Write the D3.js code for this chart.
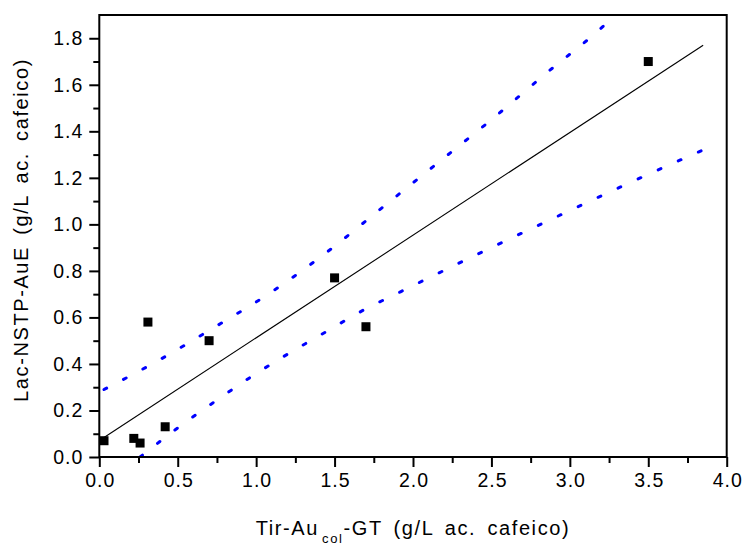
<!DOCTYPE html>
<html>
<head>
<meta charset="utf-8">
<script src="https://cdn.jsdelivr.net/npm/d3@7"></script>
<style>
  html, body { margin: 0; padding: 0; background: #fff; }
  svg { display: block; font-family: "Liberation Sans", Arial, sans-serif; }
</style>
</head>
<body>
<svg id="chart" width="744" height="545"></svg>
<script>
// Measured samples: Tir-Au_col-GT (x) vs Lac-NSTP-AuE (y), g/L caffeic acid
const sampleX = [0.03, 0.22, 0.26, 0.42, 0.31, 0.70, 1.50, 1.70, 3.50];
const sampleY = [0.07, 0.08, 0.06, 0.13, 0.58, 0.50, 0.77, 0.56, 1.70];

// Linear fit endpoints
const fitX = [0.03, 3.85];
const fitY = [0.084, 1.770];

// Upper and lower confidence limits
const upperX = [0.03, 0.39, 0.74, 1.10, 1.45, 1.80, 2.15, 2.50, 2.85, 3.21, 3.25];
const upperY = [0.29, 0.42, 0.56, 0.71, 0.88, 1.07, 1.26, 1.45, 1.65, 1.85, 1.875];
const lowerX = [0.26, 0.51, 0.74, 0.98, 1.22, 1.45, 1.68, 1.92, 2.39, 2.86, 3.32, 3.85];
const lowerY = [0.00, 0.13, 0.24, 0.35, 0.45, 0.54, 0.63, 0.71, 0.865, 1.015, 1.16, 1.32];

// Axis ticks
const xMajor = [0, 0.5, 1, 1.5, 2, 2.5, 3, 3.5, 4];
const xMinor = [0.25, 0.75, 1.25, 1.75, 2.25, 2.75, 3.25, 3.75];
const yMajor = [0, 0.2, 0.4, 0.6, 0.8, 1.0, 1.2, 1.4, 1.6, 1.8];
const yMinor = [0.1, 0.3, 0.5, 0.7, 0.9, 1.1, 1.3, 1.5, 1.7];

const svg = d3.select("#chart");
const L = 99.3, R = 726.7, T = 15, B = 457;

const x = d3.scaleLinear().domain([0, 4]).range([L, R]);
const y = d3.scaleLinear().domain([0, 1.9]).range([B, T]);

svg.append("defs").append("clipPath").attr("id", "plotClip")
  .append("rect").attr("x", L).attr("y", T).attr("width", R - L).attr("height", B - T);

const plot = svg.append("g").attr("clip-path", "url(#plotClip)");

const line = d3.line().x(d => x(d[0])).y(d => y(d[1])).curve(d3.curveMonotoneX);

// Confidence bands (blue dotted)
[[upperX, upperY], [lowerX, lowerY]].forEach(([xs, ys]) => {
  plot.append("path")
    .datum(xs.map((v, i) => [v, ys[i]]))
    .attr("d", line)
    .attr("fill", "none")
    .attr("stroke", "#0000ff")
    .attr("stroke-width", 3)
    .attr("stroke-linecap", "round")
    .attr("stroke-dasharray", "3,19");
});

// Fit line
plot.append("path")
  .datum(fitX.map((v, i) => [v, fitY[i]]))
  .attr("d", d3.line().x(d => x(d[0])).y(d => y(d[1])))
  .attr("fill", "none")
  .attr("stroke", "#000")
  .attr("stroke-width", 1.1);

// Sample points
const sq = 9;
svg.append("g").selectAll("rect")
  .data(sampleX.map((v, i) => [v, sampleY[i]]))
  .join("rect")
  .attr("x", d => x(d[0]) - sq / 2)
  .attr("y", d => y(d[1]) - sq / 2)
  .attr("width", sq)
  .attr("height", sq)
  .attr("fill", "#000");

// Bottom axis
const xAxis = d3.axisBottom(x).tickValues(xMajor).tickFormat(d3.format(".1f"))
  .tickSize(10).tickSizeOuter(0).tickPadding(6);
const gx = svg.append("g").attr("transform", `translate(0,${B})`).call(xAxis);
gx.select(".domain").remove();
gx.selectAll(".tick line").attr("stroke", "#000").attr("stroke-width", 2);
gx.selectAll(".tick text").attr("font-size", 19.5).attr("fill", "#000")
  .attr("letter-spacing", 1).attr("dx", 0.5)
  .attr("font-family", "Liberation Sans, Arial, sans-serif");
svg.append("g").attr("transform", `translate(0,${B})`)
  .call(d3.axisBottom(x).tickValues(xMinor).tickFormat("").tickSize(6).tickSizeOuter(0))
  .call(g => g.select(".domain").remove())
  .selectAll(".tick line").attr("stroke", "#000").attr("stroke-width", 2);

// Left axis
const yAxis = d3.axisLeft(y).tickValues(yMajor).tickFormat(d3.format(".1f"))
  .tickSize(10).tickSizeOuter(0).tickPadding(6);
const gy = svg.append("g").attr("transform", `translate(${L},0)`).call(yAxis);
gy.select(".domain").remove();
gy.selectAll(".tick line").attr("stroke", "#000").attr("stroke-width", 2);
gy.selectAll(".tick text").attr("font-size", 19.5).attr("fill", "#000")
  .attr("letter-spacing", 1)
  .attr("font-family", "Liberation Sans, Arial, sans-serif");
svg.append("g").attr("transform", `translate(${L},0)`)
  .call(d3.axisLeft(y).tickValues(yMinor).tickFormat("").tickSize(6).tickSizeOuter(0))
  .call(g => g.select(".domain").remove())
  .selectAll(".tick line").attr("stroke", "#000").attr("stroke-width", 2);

// Frame
svg.append("rect")
  .attr("x", L).attr("y", T).attr("width", R - L).attr("height", B - T)
  .attr("fill", "none").attr("stroke", "#000").attr("stroke-width", 2);

// Axis titles
const xt = svg.append("text")
  .attr("x", (L + R) / 2).attr("y", 535)
  .attr("text-anchor", "middle")
  .attr("font-size", 20).attr("fill", "#000")
  .attr("letter-spacing", 1.6).attr("word-spacing", 4);
xt.append("tspan").text("Tir-Au");
xt.append("tspan").attr("font-size", 13).attr("dy", 8).attr("dx", 3).text("col");
xt.append("tspan").attr("dy", -8).text("-GT (g/L ac. cafeico)");

svg.append("text")
  .attr("transform", `translate(28,${(T + B) / 2 - 6}) rotate(-90)`)
  .attr("text-anchor", "middle")
  .attr("font-size", 20).attr("fill", "#000")
  .attr("letter-spacing", 1.6).attr("word-spacing", 4)
  .text("Lac-NSTP-AuE (g/L ac. cafeico)");
</script>
</body>
</html>
